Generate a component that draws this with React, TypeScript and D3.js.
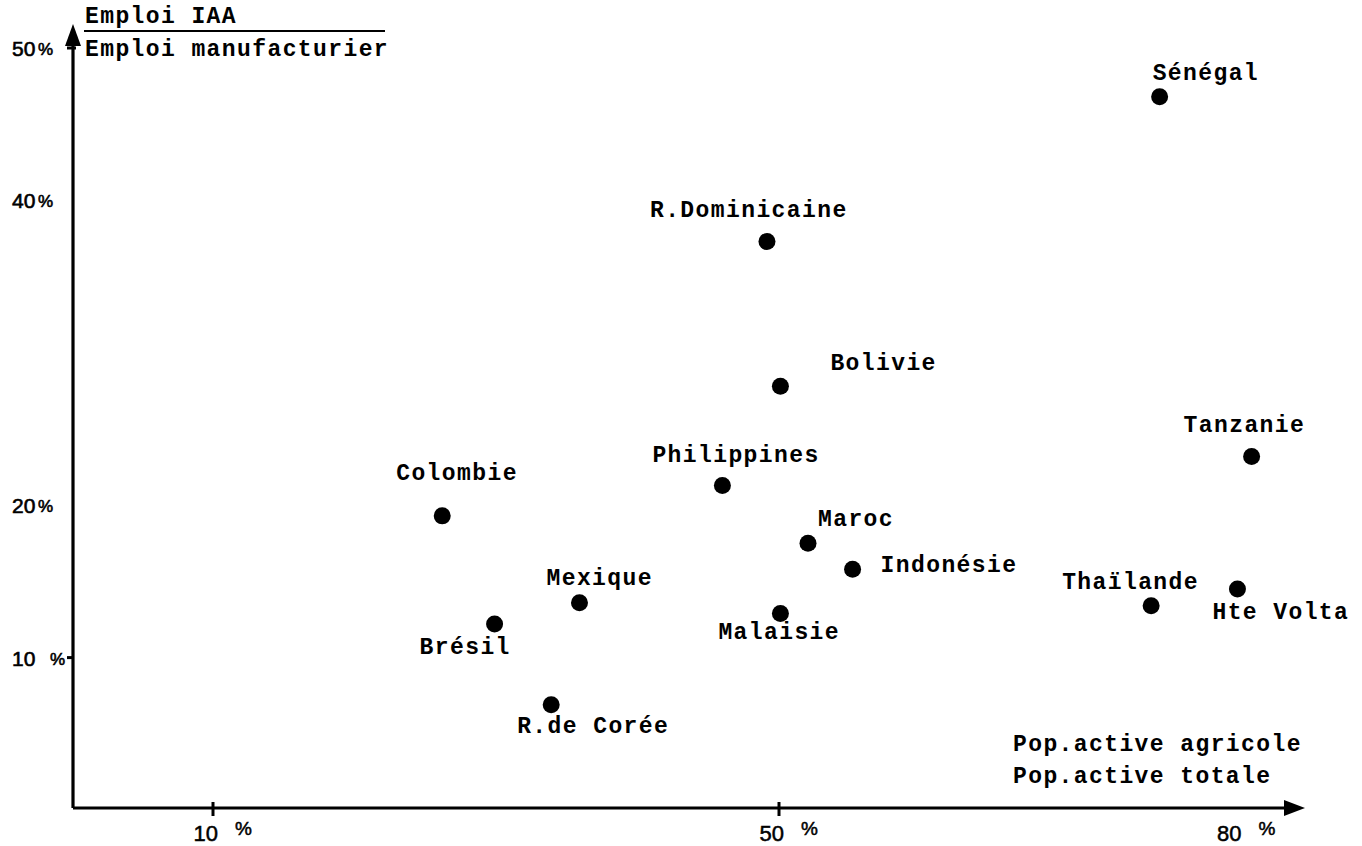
import React from "react";
import * as d3 from "d3";

const countries = ["Sénégal", "R.Dominicaine", "Bolivie", "Tanzanie", "Philippines", "Colombie", "Maroc", "Indonésie", "Mexique", "Thaïlande", "Hte Volta", "Malaisie", "Brésil", "R.de Corée"];
const agriShare = [76.9, 49.15, 50.1, 83.4, 46.0, 26.2, 52.05, 55.2, 35.9, 76.3, 82.4, 50.1, 29.9, 33.9];
const iaaShare = [46.8, 37.3, 27.8, 23.2, 21.3, 19.3, 17.5, 15.8, 13.6, 13.4, 14.5, 12.9, 12.2, 6.9];

// label offsets (px) relative to each dot: [dx, dy of baseline]
const labelOffsets: [number, number][] = [
  [-7, -17], [-117, -25], [50, -16], [-68, -24], [-70, -23], [-46, -36], [10, -17],
  [28, 3], [-33, -18], [-89, -17], [-25, 30], [-62, 26], [-75, 30], [-34, 28],
];

const xTicks = [10, 50];
const xTickNumbers = ["10", "50", "80"];
const xTickLabelValues = [10, 50, 80];
const yTicks = [50, 10];
const yTickNumbers = ["50", "40", "20", "10"];
const yTickLabelValues = [50, 40, 20, 10];

const yTitle = ["Emploi IAA", "Emploi manufacturier"];
const xTitle = ["Pop.active agricole", "Pop.active totale"];

const W = 1362;
const H = 846;

export default function App() {
  const x = d3.scaleLinear().domain([0, 80]).range([71.5, 71.5 + 80 * 14.15]);
  const y = d3.scaleLinear().domain([0, 50]).range([810, 48]);
  const ax = 73;
  const ay = 808;
  const mono = "'Liberation Mono', 'DejaVu Sans Mono', monospace";
  const sans = "'Liberation Sans', Arial, sans-serif";
  const monoStyle: React.CSSProperties = { fontFamily: mono, fontWeight: 700, fontSize: 23, letterSpacing: 1.4 };

  return (
    <svg width={W} height={H} style={{ position: "absolute", left: 0, top: 0, background: "#fff" }}>
      <rect x={0} y={0} width={W} height={H} fill="#fff" />
      {/* axes */}
      <line x1={ax} y1={ay} x2={ax} y2={40} stroke="#000" strokeWidth={3.2} />
      <path d={`M${ax},24 L${ax - 8},46 L${ax + 8},46 Z`} fill="#000" />
      <line x1={ax} y1={ay} x2={1290} y2={ay} stroke="#000" strokeWidth={3.2} />
      <path d={`M1305,${ay} L1284,${ay - 8} L1284,${ay + 8} Z`} fill="#000" />

      {/* y ticks */}
      {yTicks.map((t) => (
        <line key={"yt" + t} x1={ax - 6} x2={t === 50 ? ax + 3 : ax} y1={y(t)} y2={y(t)} stroke="#000" strokeWidth={3} />
      ))}
      {yTickNumbers.map((l, i) => {
        const v = yTickLabelValues[i];
        const pctX = v === 10 ? 50 : 38;
        return (
          <g key={"yl" + i}>
            <text x={12} y={y(v) + 8} fontFamily={sans} fontSize={21} fill="#000" stroke="#000" strokeWidth={0.6}>
              {l}
            </text>
            <text x={pctX} y={y(v) + 7} fontFamily={sans} fontSize={17} fill="#000" stroke="#000" strokeWidth={0.6}>
              %
            </text>
          </g>
        );
      })}

      {/* x ticks */}
      {xTicks.map((t) => (
        <line key={"xt" + t} x1={x(t)} x2={x(t)} y1={ay - 6} y2={ay + 8} stroke="#000" strokeWidth={3} />
      ))}
      {xTickNumbers.map((l, i) => {
        const v = xTickLabelValues[i];
        const shift = v === 80 ? 33 : 0;
        return (
          <g key={"xl" + i}>
            <text x={x(v) + 5 + shift} y={841} textAnchor="end" fontFamily={sans} fontSize={22} fill="#000" stroke="#000" strokeWidth={0.5}>
              {l}
            </text>
            <text x={x(v) + 22 + shift} y={835} fontFamily={sans} fontSize={19} fill="#000" stroke="#000" strokeWidth={0.5}>
              %
            </text>
          </g>
        );
      })}

      {/* y title */}
      <text x={85} y={23} style={monoStyle}>{yTitle[0]}</text>
      <line x1={84} x2={385} y1={31} y2={31} stroke="#000" strokeWidth={2} />
      <text x={85} y={56} style={monoStyle}>{yTitle[1]}</text>

      {/* x title */}
      <text x={1013} y={751} style={monoStyle}>{xTitle[0]}</text>
      <text x={1013} y={783} style={monoStyle}>{xTitle[1]}</text>

      {/* points */}
      {countries.map((c, i) => (
        <g key={c}>
          <circle cx={x(agriShare[i])} cy={y(iaaShare[i])} r={8.5} fill="#000" />
          <text x={x(agriShare[i]) + labelOffsets[i][0]} y={y(iaaShare[i]) + labelOffsets[i][1]} style={monoStyle}>
            {c}
          </text>
        </g>
      ))}
    </svg>
  );
}
